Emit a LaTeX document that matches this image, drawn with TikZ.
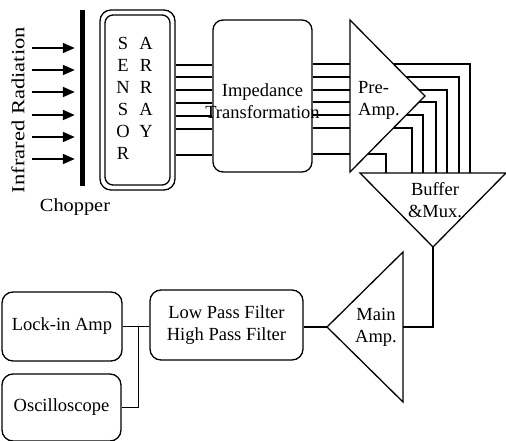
\documentclass[tikz,border=0pt]{standalone}
\usepackage{fontspec}
\setmainfont{Liberation Serif}
\usetikzlibrary{arrows.meta, positioning, calc}
\newcommand{\diafont}{\fontsize{18.5}{22}\selectfont}

\begin{document}
\begin{tikzpicture}[
    x=1pt, y=-1pt,
    every node/.append style={font=\diafont},
    blk/.style={draw, line width=1.3pt, rounded corners=11pt, align=center, inner sep=0pt},
    wire/.style={line width=1.2pt},
    amp/.style={draw, line width=1.3pt, fill=white, line join=miter},
    irarr/.style={-{Triangle[length=12pt,width=10pt]}, line width=1.8pt, shorten >=5pt},
    txt/.style={align=center, inner sep=0pt}
]
  \useasboundingbox (0,0) rectangle (506,441);

  % Sensor side
  \node[fill=black, inner sep=0pt, minimum width=5pt, minimum height=176pt] (chopper) at (82.5,98) {};
  \node[txt] (chopperlbl) at (75,207) {\scalebox{1.1}[1]{Chopper}};
  \node[txt, rotate=90] (irlbl) at (18,110) {\scalebox{1.22}[1]{Infrared Radiation}};
  \node[blk, minimum width=75pt, minimum height=180pt] (sensor) at (137.5,100) {};
  \node[blk, rounded corners=8pt, minimum width=65pt, minimum height=170pt] (sensorin) at (137.5,100) {};
  \node[txt, anchor=north] (colA) at (123,37) {S\\E\\N\\S\\O\\R};
  \node[txt, anchor=north] (colB) at (146,37) {A\\R\\R\\A\\Y};
  \node[blk, rounded corners=10pt, minimum width=99pt, minimum height=152pt] (imp) at (262.5,96) {};
  \node[txt] (implbl) at (262.5,101) {Impedance\\Transformation};

  % Amplifier corners
  \coordinate (preT) at (350,20);
  \coordinate (preB) at (350,172);
  \coordinate (preA) at (425,96);
  \coordinate (bufL) at (360,173);
  \coordinate (bufR) at (506,173);
  \coordinate (bufA) at (433,247);
  \coordinate (mainT) at (403,252);
  \coordinate (mainB) at (403,402);
  \coordinate (mainA) at (327,327);

  % Read-out boxes
  \node[blk, minimum width=153pt, minimum height=70pt] (filt) at (226.5,325) {Low Pass Filter\\High Pass Filter};
  \node[blk, minimum width=120pt, minimum height=69pt] (lock) at (62,326.5) {Lock-in Amp};
  \node[blk, minimum width=119pt, minimum height=67pt] (osc) at (61.5,407.5) {Oscilloscope};

  % Radiation arrows
  \foreach \y in {48,70,92,115,137,159} {
    \coordinate (ir\y) at (32,\y);
    \draw[irarr] (ir\y) -- (chopper.west |- ir\y);
  }

  % Channel wires
  \foreach \y in {65,77,90,103,116,129,155}
    \draw[wire] (sensor.east |- 0,\y) -- (imp.west |- 0,\y);
  \foreach \y/\x in {64/470,77/459,90/447,102/436,115/423,128/412,154/386}
    \draw[wire] (imp.east |- 0,\y) -| (\x,0 |- bufL);

  % Amplifiers
  \draw[amp] (preT) -- (preA) -- (preB) -- cycle;
  \draw[amp] (bufL) -- (bufR) -- (bufA) -- cycle;
  \draw[amp] (mainT) -- (mainB) -- (mainA) -- cycle;
  \node[txt, anchor=west, align=left] (prelbl) at (358,100) {Pre-\\Amp.};
  \node[txt] (buflbl) at (435,200) {Buffer\\\&Mux.};
  \node[txt] (mainlbl) at (376,327) {Main\\Amp.};

  % Signal path
  \draw[wire] (bufA) |- ($(mainT)!0.5!(mainB)$);
  \draw[wire] (mainA) -- (mainA -| filt.east);
  \draw[wire] (filt.west |- lock.east) -- (lock.east);
  \coordinate (jn) at ($(lock.east)!0.6!(filt.west |- lock.east)$);
  \draw[wire] (jn) |- (osc.east);
\end{tikzpicture}
\end{document}
